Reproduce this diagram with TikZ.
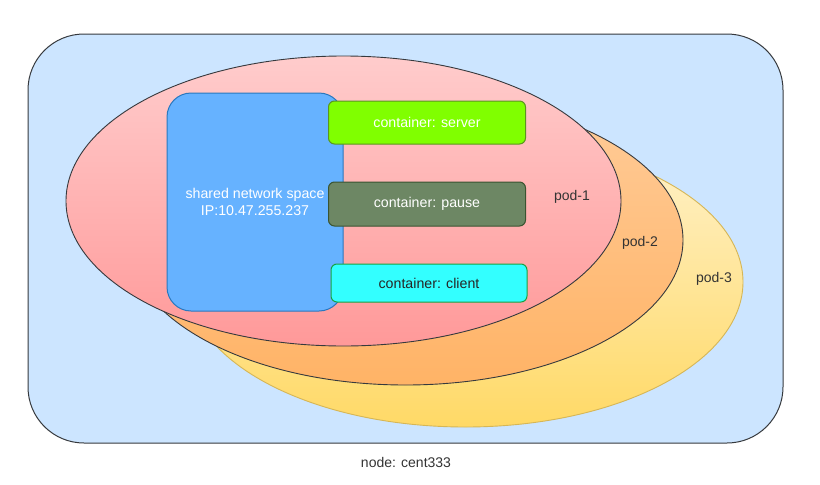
\documentclass[tikz,border=0pt]{standalone}
\usepackage{fontspec}
\setmainfont{Liberation Sans}
\usetikzlibrary{shapes.geometric}
\definecolor{outerfill}{HTML}{CCE5FF}
\definecolor{darkline}{HTML}{36393D}
\definecolor{podAtop}{HTML}{FFCCCC}
\definecolor{podAbot}{HTML}{FF9999}
\definecolor{podBtop}{HTML}{FFCC99}
\definecolor{podBbot}{HTML}{FFB366}
\definecolor{podCtop}{HTML}{FFF2CC}
\definecolor{podCbot}{HTML}{FFD966}
\definecolor{podCline}{HTML}{D6B656}
\definecolor{netfill}{HTML}{66B2FF}
\definecolor{netline}{HTML}{2A78BE}
\definecolor{srvfill}{HTML}{80FF00}
\definecolor{srvline}{HTML}{5A961E}
\definecolor{pausefill}{HTML}{6D8764}
\definecolor{pauseline}{HTML}{3A5431}
\definecolor{clifill}{HTML}{33FFFF}
\definecolor{cliline}{HTML}{1BA142}
\definecolor{txt}{HTML}{333333}
\tikzset{
  lbl/.style={font=\fontsize{14}{17}\selectfont, text=txt, inner sep=0pt},
  pod/.style={ellipse, minimum width=555pt, minimum height=290pt, inner sep=0pt, line width=0.9pt},
  cbox/.style={rounded corners=6pt, line width=1pt, minimum width=197pt, minimum height=43pt, inner sep=0pt, font=\fontsize{14.2}{17}\selectfont},
}
\begin{document}
\begin{tikzpicture}[x=1pt,y=-1pt]
\useasboundingbox (0,0) rectangle (820,485);
% outer node box
\draw[fill=outerfill, draw=darkline, line width=1pt, rounded corners=56pt] (28,34) rectangle (783,443);
\node[lbl] (nodelabel) at (406,462) {node: cent333};
% pods
\node[pod, draw=podCline, top color=podCtop, bottom color=podCbot] (pod3) at (465.5,282) {};
\node[pod, draw=darkline, top color=podBtop, bottom color=podBbot] (pod2) at (405.5,240) {};
\node[pod, draw=darkline, top color=podAtop, bottom color=podAbot] (pod1) at (343.5,201) {};
\node[lbl] (pod1l) at (572,197) {pod-1};
\node[lbl] (pod2l) at (640,243) {pod-2};
\node[lbl] (pod3l) at (714,279) {pod-3};
% shared network
\node[draw=netline, fill=netfill, line width=1pt, rounded corners=24pt, minimum width=176pt, minimum height=218pt, inner sep=0pt,
      font=\fontsize{14.2}{17}\selectfont, text=white, align=center] (net) at (255,202)
      {shared network space\\IP:10.47.255.237};
% containers
\node[cbox, draw=srvline, fill=srvfill, text=white] (server) at (427,122.5) {container: server};
\node[cbox, draw=pauseline, fill=pausefill, text=white, minimum height=44pt] (pause) at (427,204) {container: pause};
\node[cbox, draw=cliline, fill=clifill, text=black!85, minimum width=196pt, minimum height=38pt] (client) at (429,283) {container: client};
\end{tikzpicture}
\end{document}
